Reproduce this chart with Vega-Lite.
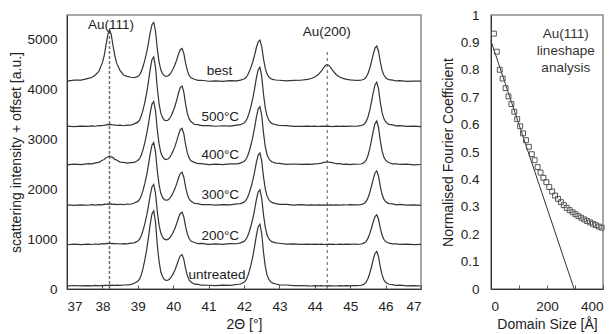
{
"$schema":"https://vega.github.io/schema/vega-lite/v6.json",
"padding":{"left":9,"top":7,"right":5,"bottom":5},
"background":"white",
"bounds":"flush",
"spacing":70,
"config":{
 "font":"Liberation Sans",
 "view":{"stroke":"#8a8a8a","strokeWidth":1.5},
 "axis":{"grid":false,"labelFont":"Liberation Sans","titleFont":"Liberation Sans","labelFontSize":13.5,"titleFontSize":14,"titleFontWeight":"normal","labelColor":"#222","titleColor":"#222","domainColor":"#333","tickColor":"#555"}
},
"hconcat":[
{
 "width":354,"height":274,
 "encoding":{
  "x":{"field":"t","type":"quantitative","scale":{"domain":[37,47],"nice":false,"zero":false},"axis":{"values":[37,38,39,40,41,42,43,44,45,46,47],"title":"2Θ [°]","tickSize":-4,"labelPadding":14,"titlePadding":5}},
  "y":{"field":"v","type":"quantitative","scale":{"domain":[0,5500],"nice":false,"zero":false},"axis":{"values":[0,1000,2000,3000,4000,5000],"format":"d","title":"scattering intensity + offset [a.u.]","ticks":false,"labelPadding":10,"titlePadding":3}}
 },
 "layer":[
  {"data":{"values":[{"t":38.2,"v":0,"v2":5190}]},"mark":{"type":"rule","color":"#707070","strokeWidth":1.5,"strokeDash":[3,2]},"encoding":{"y2":{"field":"v2"}}},
  {"data":{"values":[{"t":44.35,"v":0,"v2":4800}]},"mark":{"type":"rule","color":"#555","strokeWidth":1,"strokeDash":[3,3]},"encoding":{"y2":{"field":"v2"}}},
  {"data":{"values":[
{"t":37.0,"u":58,"a":888,"b":1689,"c":2492,"d":3270,"e":4173},
{"t":37.2,"u":70,"a":899,"b":1678,"c":2505,"d":3259,"e":4191},
{"t":37.4,"u":61,"a":890,"b":1690,"c":2497,"d":3271,"e":4194},
{"t":37.6,"u":68,"a":901,"b":1681,"c":2516,"d":3264,"e":4229},
{"t":37.7,"u":62,"a":893,"b":1692,"c":2512,"d":3276,"e":4246},
{"t":37.8,"u":71,"a":903,"b":1684,"c":2533,"d":3267,"e":4297},
{"t":37.9,"u":64,"a":896,"b":1695,"c":2541,"d":3281,"e":4368},
{"t":38.0,"u":74,"a":909,"b":1690,"c":2585,"d":3278,"e":4543},
{"t":38.05,"u":68,"a":903,"b":1702,"c":2599,"d":3292,"e":4681},
{"t":38.1,"u":77,"a":915,"b":1697,"c":2636,"d":3290,"e":4889},
{"t":38.15,"u":70,"a":910,"b":1708,"c":2651,"d":3304,"e":5098},
{"t":38.2,"u":79,"a":920,"b":1702,"c":2670,"d":3298,"e":5206},
{"t":38.25,"u":72,"a":911,"b":1709,"c":2652,"d":3303,"e":5105},
{"t":38.3,"u":78,"a":917,"b":1699,"c":2638,"d":3292,"e":4883},
{"t":38.35,"u":70,"a":906,"b":1705,"c":2601,"d":3297,"e":4691},
{"t":38.4,"u":77,"a":913,"b":1694,"c":2589,"d":3282,"e":4538},
{"t":38.5,"u":72,"a":903,"b":1701,"c":2548,"d":3290,"e":4382},
{"t":38.6,"u":80,"a":911,"b":1694,"c":2543,"d":3277,"e":4297},
{"t":38.7,"u":81,"a":907,"b":1706,"c":2528,"d":3290,"e":4268},
{"t":38.8,"u":88,"a":919,"b":1701,"c":2538,"d":3288,"e":4250},
{"t":38.9,"u":114,"a":926,"b":1726,"c":2541,"d":3314,"e":4241},
{"t":39.0,"u":153,"a":965,"b":1758,"c":2580,"d":3349,"e":4268},
{"t":39.05,"u":198,"a":1001,"b":1796,"c":2616,"d":3391,"e":4299},
{"t":39.1,"u":289,"a":1074,"b":1872,"c":2691,"d":3476,"e":4368},
{"t":39.15,"u":424,"a":1182,"b":1984,"c":2803,"d":3600,"e":4470},
{"t":39.2,"u":589,"a":1314,"b":2123,"c":2943,"d":3753,"e":4598},
{"t":39.25,"u":785,"a":1471,"b":2285,"c":3107,"d":3933,"e":4748},
{"t":39.3,"u":1026,"a":1664,"b":2486,"c":3308,"d":4157,"e":4934},
{"t":39.35,"u":1296,"a":1880,"b":2712,"c":3535,"d":4408,"e":5143},
{"t":39.4,"u":1506,"a":2048,"b":2887,"c":3712,"d":4602,"e":5306},
{"t":39.45,"u":1568,"a":2098,"b":2938,"c":3764,"d":4660,"e":5353},
{"t":39.5,"u":1344,"a":1920,"b":2753,"c":3577,"d":4454,"e":5179},
{"t":39.55,"u":896,"a":1562,"b":2380,"c":3200,"d":4039,"e":4829},
{"t":39.6,"u":553,"a":1287,"b":2094,"c":2912,"d":3722,"e":4561},
{"t":39.65,"u":345,"a":1122,"b":1921,"c":2739,"d":3530,"e":4399},
{"t":39.7,"u":245,"a":1042,"b":1839,"c":2656,"d":3439,"e":4321},
{"t":39.75,"u":190,"a":1000,"b":1794,"c":2611,"d":3389,"e":4279},
{"t":39.8,"u":172,"a":988,"b":1782,"c":2599,"d":3378,"e":4268},
{"t":39.85,"u":175,"a":996,"b":1789,"c":2608,"d":3388,"e":4276},
{"t":39.9,"u":200,"a":1024,"b":1818,"c":2641,"d":3424,"e":4304},
{"t":39.95,"u":247,"a":1075,"b":1869,"c":2699,"d":3488,"e":4355},
{"t":40.0,"u":308,"a":1140,"b":1936,"c":2773,"d":3571,"e":4422},
{"t":40.05,"u":382,"a":1219,"b":2015,"c":2862,"d":3669,"e":4501},
{"t":40.1,"u":476,"a":1318,"b":2115,"c":2973,"d":3793,"e":4602},
{"t":40.15,"u":584,"a":1431,"b":2229,"c":3099,"d":3934,"e":4715},
{"t":40.2,"u":666,"a":1517,"b":2318,"c":3198,"d":4043,"e":4804},
{"t":40.25,"u":690,"a":1542,"b":2343,"c":3226,"d":4074,"e":4829},
{"t":40.3,"u":596,"a":1445,"b":2244,"c":3115,"d":3953,"e":4730},
{"t":40.35,"u":410,"a":1252,"b":2048,"c":2898,"d":3711,"e":4533},
{"t":40.4,"u":268,"a":1104,"b":1897,"c":2731,"d":3526,"e":4383},
{"t":40.45,"u":181,"a":1013,"b":1806,"c":2631,"d":3414,"e":4291},
{"t":40.5,"u":142,"a":963,"b":1766,"c":2574,"d":3361,"e":4240},
{"t":40.6,"u":96,"a":934,"b":1716,"c":2541,"d":3303,"e":4210},
{"t":40.7,"u":91,"a":911,"b":1712,"c":2516,"d":3298,"e":4187},
{"t":40.8,"u":76,"a":914,"b":1695,"c":2518,"d":3279,"e":4190},
{"t":41.0,"u":75,"a":897,"b":1696,"c":2497,"d":3278,"e":4170},
{"t":41.2,"u":66,"a":905,"b":1685,"c":2507,"d":3267,"e":4179},
{"t":41.4,"u":77,"a":896,"b":1695,"c":2497,"d":3277,"e":4168},
{"t":41.6,"u":71,"a":909,"b":1689,"c":2511,"d":3271,"e":4182},
{"t":41.8,"u":90,"a":908,"b":1707,"c":2510,"d":3290,"e":4177},
{"t":41.9,"u":100,"a":925,"b":1714,"c":2527,"d":3298,"e":4192},
{"t":42.0,"u":134,"a":956,"b":1743,"c":2560,"d":3331,"e":4215},
{"t":42.05,"u":172,"a":989,"b":1775,"c":2595,"d":3367,"e":4240},
{"t":42.1,"u":246,"a":1055,"b":1838,"c":2666,"d":3439,"e":4290},
{"t":42.15,"u":358,"a":1154,"b":1932,"c":2771,"d":3546,"e":4364},
{"t":42.2,"u":494,"a":1275,"b":2048,"c":2900,"d":3677,"e":4456},
{"t":42.25,"u":655,"a":1418,"b":2184,"c":3052,"d":3831,"e":4563},
{"t":42.3,"u":854,"a":1594,"b":2352,"c":3239,"d":4022,"e":4697},
{"t":42.35,"u":1077,"a":1792,"b":2541,"c":3449,"d":4236,"e":4847},
{"t":42.4,"u":1250,"a":1946,"b":2688,"c":3613,"d":4402,"e":4963},
{"t":42.45,"u":1300,"a":1990,"b":2730,"c":3660,"d":4450,"e":4996},
{"t":42.5,"u":1114,"a":1825,"b":2573,"c":3485,"d":4272,"e":4872},
{"t":42.55,"u":742,"a":1495,"b":2258,"c":3134,"d":3915,"e":4623},
{"t":42.6,"u":457,"a":1242,"b":2016,"c":2864,"d":3641,"e":4432},
{"t":42.65,"u":283,"a":1088,"b":1869,"c":2701,"d":3474,"e":4316},
{"t":42.7,"u":196,"a":1011,"b":1796,"c":2619,"d":3391,"e":4258},
{"t":42.75,"u":147,"a":967,"b":1754,"c":2572,"d":3343,"e":4225},
{"t":42.8,"u":122,"a":945,"b":1733,"c":2549,"d":3320,"e":4209},
{"t":42.9,"u":100,"a":925,"b":1714,"c":2527,"d":3298,"e":4195},
{"t":43.0,"u":83,"a":918,"b":1699,"c":2521,"d":3282,"e":4190},
{"t":43.2,"u":80,"a":899,"b":1698,"c":2502,"d":3279,"e":4177},
{"t":43.4,"u":66,"a":905,"b":1684,"c":2509,"d":3266,"e":4188},
{"t":43.6,"u":70,"a":896,"b":1692,"c":2500,"d":3263,"e":4190},
{"t":43.8,"u":64,"a":901,"b":1684,"c":2507,"d":3270,"e":4208},
{"t":43.9,"u":60,"a":895,"b":1690,"c":2500,"d":3264,"e":4225},
{"t":44.0,"u":66,"a":899,"b":1683,"c":2513,"d":3269,"e":4254},
{"t":44.1,"u":61,"a":894,"b":1689,"c":2518,"d":3262,"e":4305},
{"t":44.2,"u":67,"a":900,"b":1684,"c":2526,"d":3268,"e":4390},
{"t":44.25,"u":60,"a":893,"b":1690,"c":2543,"d":3263,"e":4441},
{"t":44.3,"u":65,"a":898,"b":1685,"c":2547,"d":3269,"e":4486},
{"t":44.35,"u":62,"a":895,"b":1688,"c":2554,"d":3264,"e":4505},
{"t":44.4,"u":66,"a":900,"b":1683,"c":2546,"d":3270,"e":4489},
{"t":44.45,"u":61,"a":894,"b":1689,"c":2542,"d":3265,"e":4444},
{"t":44.5,"u":65,"a":899,"b":1684,"c":2538,"d":3261,"e":4392},
{"t":44.6,"u":60,"a":893,"b":1690,"c":2515,"d":3268,"e":4307},
{"t":44.7,"u":66,"a":899,"b":1685,"c":2516,"d":3263,"e":4256},
{"t":44.8,"u":62,"a":896,"b":1689,"c":2503,"d":3269,"e":4228},
{"t":44.9,"u":67,"a":901,"b":1686,"c":2507,"d":3265,"e":4208},
{"t":45.0,"u":63,"a":897,"b":1692,"c":2497,"d":3271,"e":4197},
{"t":45.1,"u":68,"a":903,"b":1688,"c":2505,"d":3267,"e":4191},
{"t":45.2,"u":68,"a":897,"b":1688,"c":2504,"d":3271,"e":4189},
{"t":45.3,"u":75,"a":903,"b":1695,"c":2509,"d":3280,"e":4192},
{"t":45.35,"u":84,"a":911,"b":1704,"c":2521,"d":3291,"e":4200},
{"t":45.4,"u":102,"a":926,"b":1721,"c":2543,"d":3313,"e":4217},
{"t":45.45,"u":136,"a":956,"b":1756,"c":2587,"d":3358,"e":4251},
{"t":45.5,"u":206,"a":1016,"b":1825,"c":2676,"d":3447,"e":4321},
{"t":45.55,"u":310,"a":1106,"b":1928,"c":2809,"d":3580,"e":4427},
{"t":45.6,"u":442,"a":1220,"b":2060,"c":2977,"d":3750,"e":4561},
{"t":45.65,"u":588,"a":1346,"b":2204,"c":3163,"d":3936,"e":4710},
{"t":45.7,"u":713,"a":1454,"b":2329,"c":3322,"d":4097,"e":4836},
{"t":45.75,"u":755,"a":1490,"b":2370,"c":3375,"d":4150,"e":4879},
{"t":45.8,"u":651,"a":1400,"b":2267,"c":3242,"d":4017,"e":4772},
{"t":45.85,"u":442,"a":1220,"b":2060,"c":2977,"d":3750,"e":4559},
{"t":45.9,"u":282,"a":1082,"b":1901,"c":2773,"d":3545,"e":4394},
{"t":45.95,"u":185,"a":998,"b":1804,"c":2649,"d":3420,"e":4295},
{"t":46.0,"u":136,"a":956,"b":1756,"c":2587,"d":3358,"e":4245},
{"t":46.05,"u":109,"a":932,"b":1728,"c":2552,"d":3322,"e":4216},
{"t":46.1,"u":95,"a":920,"b":1715,"c":2534,"d":3305,"e":4202},
{"t":46.2,"u":86,"a":905,"b":1707,"c":2513,"d":3293,"e":4193},
{"t":46.3,"u":71,"a":908,"b":1690,"c":2514,"d":3275,"e":4176},
{"t":46.4,"u":76,"a":895,"b":1697,"c":2500,"d":3280,"e":4182},
{"t":46.6,"u":63,"a":902,"b":1683,"c":2506,"d":3265,"e":4167},
{"t":46.8,"u":69,"a":889,"b":1690,"c":2491,"d":3271,"e":4174},
{"t":47.0,"u":60,"a":897,"b":1679,"c":2499,"d":3260,"e":4171}
  ]},
  "transform":[{"fold":["u","a","b","c","d","e"],"as":["trace","v"]}],
  "mark":{"type":"line","color":"#333","strokeWidth":1.2},
  "encoding":{"detail":{"field":"trace"}}},
  {"data":{"values":[
   {"t":41.31,"v":4372,"label":"best"},
   {"t":41.33,"v":3462,"label":"500°C"},
   {"t":41.33,"v":2686,"label":"400°C"},
   {"t":41.33,"v":1887,"label":"300°C"},
   {"t":41.33,"v":1067,"label":"200°C"},
   {"t":41.24,"v":280,"label":"untreated"},
   {"t":38.24,"v":5308,"label":"Au(111)"},
   {"t":44.34,"v":5150,"label":"Au(200)"}
  ]},
  "mark":{"type":"text","fontSize":13.5,"color":"#222","align":"center","baseline":"middle"},
  "encoding":{"text":{"field":"label"}}}
 ]
},
{
 "width":112,"height":274,
 "encoding":{
  "x":{"field":"L","type":"quantitative","scale":{"domain":[0,400],"nice":false},"axis":{"values":[0,100,200,300,400],"title":"Domain Size [Å]","tickSize":-4,"labelPadding":14,"titlePadding":5}},
  "y":{"field":"F","type":"quantitative","scale":{"domain":[0,1],"nice":false},"axis":{"values":[0,0.1,0.2,0.3,0.4,0.5,0.6,0.7,0.8,0.9,1],"format":"~g","title":"Normalised Fourier Coefficient","ticks":false,"labelPadding":12,"titlePadding":5}}
 },
 "layer":[
  {"data":{"values":[{"L":0,"F":0.905},{"L":297,"F":0}]},"mark":{"type":"line","color":"#333","strokeWidth":1},"encoding":{}},
  {"data":{"values":[
{"L":10.4,"F":0.932},{"L":20.8,"F":0.866},{"L":31.2,"F":0.8},{"L":41.6,"F":0.768},{"L":52,"F":0.733},
{"L":62.4,"F":0.703},{"L":72.8,"F":0.675},{"L":83.2,"F":0.647},{"L":93.6,"F":0.62},{"L":104,"F":0.594},
{"L":114.4,"F":0.568},{"L":124.8,"F":0.543},{"L":135.2,"F":0.519},{"L":145.6,"F":0.492},{"L":156,"F":0.47},
{"L":166.4,"F":0.445},{"L":176.8,"F":0.425},{"L":187.2,"F":0.406},{"L":197.6,"F":0.39},{"L":208,"F":0.372},
{"L":218.4,"F":0.356},{"L":228.8,"F":0.341},{"L":239.2,"F":0.329},{"L":249.6,"F":0.317},{"L":260,"F":0.306},
{"L":270.4,"F":0.296},{"L":280.8,"F":0.288},{"L":291.2,"F":0.28},{"L":301.6,"F":0.273},{"L":312,"F":0.266},
{"L":322.4,"F":0.26},{"L":332.8,"F":0.254},{"L":343.2,"F":0.248},{"L":353.6,"F":0.243},{"L":364,"F":0.238},
{"L":374.4,"F":0.233},{"L":384.8,"F":0.228},{"L":395.2,"F":0.224}
  ]},
  "mark":{"type":"point","shape":"square","filled":false,"size":24,"stroke":"#555","strokeWidth":1,"opacity":1}},
  {"data":{"values":[{"L":267,"F":0.93,"label":"Au(111)"},{"L":267,"F":0.869,"label":"lineshape"},{"L":267,"F":0.808,"label":"analysis"}]},
  "mark":{"type":"text","fontSize":13.5,"color":"#333","align":"center","baseline":"middle"},
  "encoding":{"text":{"field":"label"}}}
 ]
}
]
}
